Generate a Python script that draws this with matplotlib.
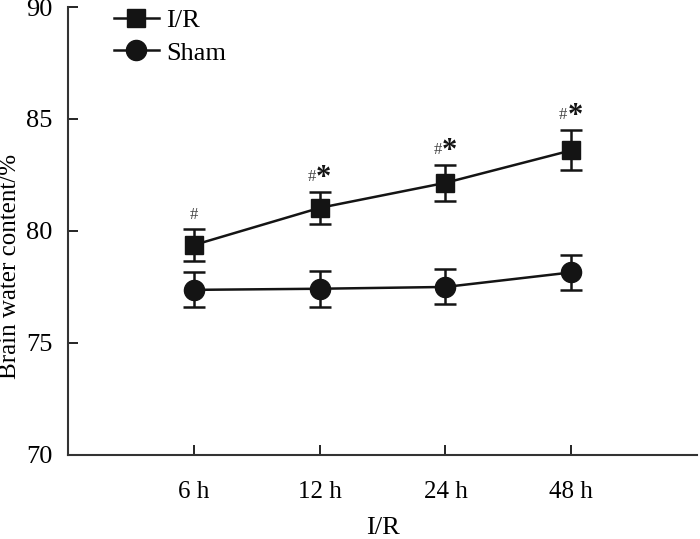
import matplotlib.pyplot as plt
from matplotlib.lines import Line2D

# Datos
tiempos = ["6 h", "12 h", "24 h", "48 h"]
posiciones = [1, 2, 3, 4]
ir_media = [79.37, 81.03, 82.15, 83.6]
ir_error = [0.7, 0.7, 0.8, 0.9]
sham_media = [77.37, 77.42, 77.5, 78.15]
sham_error = [0.78, 0.8, 0.78, 0.78]
marcas = ["#", "#*", "#*", "#*"]

plt.rcParams['font.family'] = ['Liberation Serif', 'DejaVu Serif']

color_linea = "#141414"

fig = plt.figure(figsize=(7, 5.39), dpi=100)
ax = fig.add_axes([0.097, 0.156, 0.899, 0.831])

ax.errorbar(posiciones, ir_media, yerr=ir_error, color=color_linea, marker="s",
            markersize=13, linewidth=1.8, capsize=8, capthick=1.8, elinewidth=1.8)
ax.errorbar(posiciones, sham_media, yerr=sham_error, color=color_linea, marker="o",
            markersize=14.5, linewidth=1.8, capsize=8, capthick=1.8, elinewidth=1.8)

# Marcas de significancia sobre las barras de error
for x, m, e, txt in zip(posiciones, ir_media, ir_error, marcas):
    y = m + e + 0.3
    if txt == "#":
        ax.text(x, y, "#", ha="center", va="bottom", fontsize=12, color="#444444")
    else:
        ax.text(x - 0.03, y, "#", ha="right", va="bottom", fontsize=12, color="#444444")
        ax.text(x - 0.03, y - 0.35, "*", ha="left", va="bottom", fontsize=22,
                fontweight="bold", color=color_linea)

ax.set_xlim(0, 5)
ax.set_ylim(70, 90)
ax.set_xticks(posiciones)
ax.set_xticklabels(tiempos, fontsize=18)
ax.set_yticks([70, 75, 80, 85, 90])
ax.tick_params(axis="y", labelsize=19, direction="in", length=7, width=1.2, pad=11)
ax.tick_params(axis="x", direction="in", length=7, width=1.2, pad=19)

for lado in ["top", "right"]:
    ax.spines[lado].set_visible(False)
for lado in ["left", "bottom"]:
    ax.spines[lado].set_linewidth(1.5)
    ax.spines[lado].set_color("#333333")

ax.set_xlabel("I/R", fontsize=19, labelpad=10)
ax.set_ylabel("Brain water content/%", fontsize=18)
ax.yaxis.set_label_coords(-0.074, 0.42)

# Leyenda sin barras de error
manejadores = [
    Line2D([], [], color=color_linea, marker="s", markersize=13, linewidth=1.8),
    Line2D([], [], color=color_linea, marker="o", markersize=14.5, linewidth=1.8),
]
ax.legend(manejadores, ["I/R", "Sham"], loc="upper left", bbox_to_anchor=(0.035, 1.05),
          frameon=False, fontsize=19, handlelength=1.7, labelspacing=0.35,
          handletextpad=0.3)

plt.savefig("out.png", dpi=100)
